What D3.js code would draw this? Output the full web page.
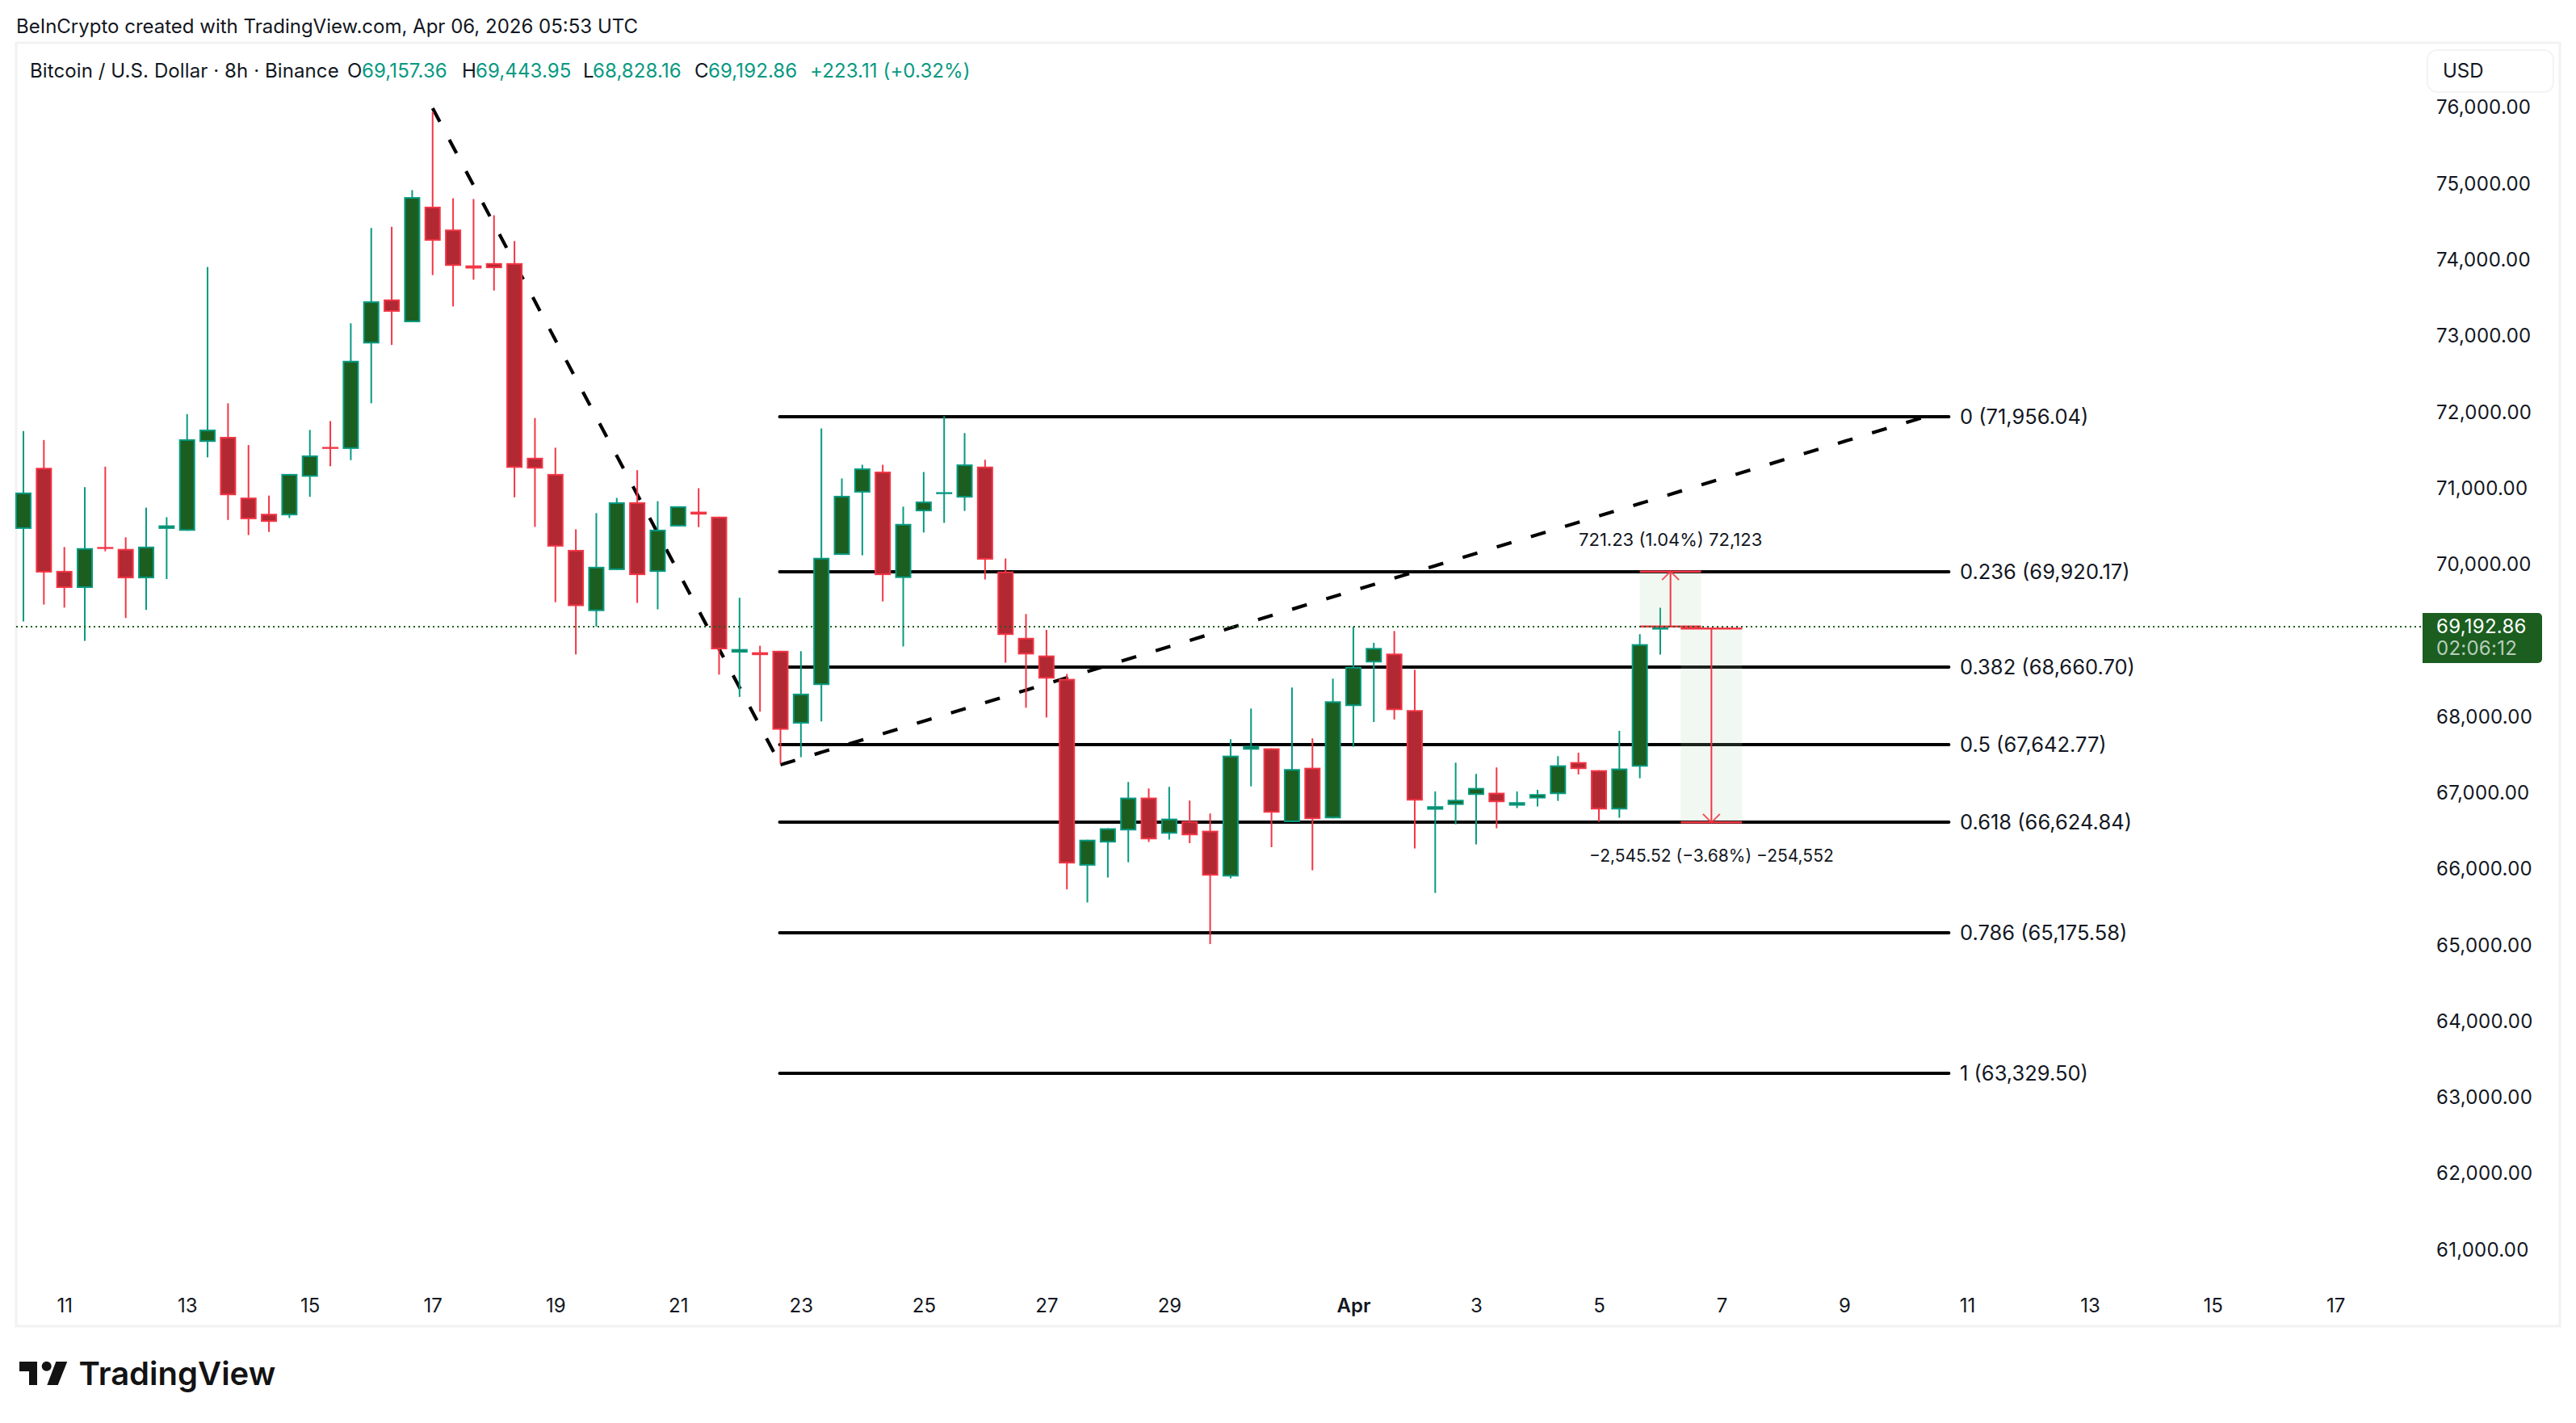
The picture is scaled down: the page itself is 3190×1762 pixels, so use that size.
<!DOCTYPE html>
<html>
<head>
<meta charset="utf-8">
<script src="https://cdn.jsdelivr.net/npm/d3@7"></script>
<style>
  html, body { margin: 0; padding: 0; background: #fff; }
  svg { display: block; }
  text { font-family: Inter, "Liberation Sans", sans-serif; fill: #131722; }
</style>
</head>
<body>
<div id="chart"></div>
<script>
// BTC/USD 8h candles, Mar 10 08:00 -> Apr 6 00:00, one bar every 8 hours
const opens = [
  70480, 71282, 69928, 69704, 70242, 70217, 69831, 70480, 70455, 71622,
  71688, 70891, 70678, 70658, 71165, 71556, 71530, 72915, 73493, 73194,
  74711, 74411, 73940, 73970, 73970, 71414, 71201, 70204, 69400, 69939,
  70829, 69915, 70512, 70706, 70640, 68855, 68860, 68879, 67923, 68429,
  70138, 70957, 71232, 69835, 70711, 70952, 70891, 71298, 69920, 69049,
  68817, 68510, 66057, 66361, 66520, 66951, 66477, 66643, 66516, 65915,
  67580, 67598, 66629, 67343, 66679, 68153, 68726, 68842, 68100, 66792,
  66855, 66986, 67015, 66845, 66940, 66997, 67417, 67311, 66795, 67357,
  69157.36
];
const highs = [
  71764, 71647, 70242, 71028, 71297, 70369, 70759, 70633, 71987, 73919,
  72129, 71581, 70917, 71201, 71779, 71896, 73179, 74432, 74447, 74929,
  75958, 74822, 74812, 74599, 74259, 71936, 71546, 70474, 70687, 70886,
  71251, 70843, 70777, 71014, 70640, 69575, 68945, 68879, 68874, 71800,
  71142, 71322, 71322, 70772, 71227, 71961, 71738, 71388, 70091, 69362,
  69153, 68576, 66398, 66548, 67156, 67071, 67092, 66912, 66742, 67718,
  68121, 67598, 68397, 67729, 68513, 69196, 68984, 69139, 68630, 67032,
  67410, 67262, 67347, 67032, 67053, 67495, 67541, 67311, 67828, 69097,
  69443.95
];
const lows = [
  69263, 69486, 69446, 69009, 70186, 69309, 69416, 69821, 70455, 71419,
  70597, 70399, 70440, 70623, 70901, 71302, 71383, 72129, 72895, 73194,
  73813, 73402, 73752, 73610, 70896, 70506, 69517, 68831, 69196, 69939,
  69508, 69423, 70512, 70503, 68566, 68273, 68079, 67397, 67482, 67951,
  70138, 70133, 69527, 68936, 70432, 70559, 70716, 69816, 68722, 68131,
  68003, 65745, 65574, 65901, 66102, 66368, 66400, 66353, 65028, 65890,
  67099, 66300, 66629, 65996, 66679, 67619, 67944, 67976, 66283, 65699,
  66601, 66336, 66548, 66813, 66834, 66908, 67255, 66633, 66686, 67205,
  68828.16
];
const closes = [
  70957, 69907, 69704, 70227, 70237, 69831, 70247, 70526, 71657, 71784,
  70922, 70607, 70572, 71201, 71444, 71551, 72687, 73468, 73331, 74837,
  74264, 73934, 73899, 73904, 71282, 71272, 70247, 69466, 69982, 70829,
  69873, 70469, 70777, 70668, 68898, 68902, 68822, 67842, 68316, 70100,
  70914, 71274, 69873, 70545, 70839, 70962, 71326, 70076, 69087, 68831,
  68514, 66086, 66398, 66548, 66951, 66403, 66675, 66456, 65926, 67502,
  67630, 66753, 67326, 66668, 68216, 68669, 68916, 68100, 66912, 66838,
  66922, 67078, 66891, 66891, 66997, 67375, 67326, 66795, 67333, 68966,
  69192.86
];

// 69,000 is hidden behind the last price tag
const priceTicks = [61000, 62000, 63000, 64000, 65000, 66000, 67000, 68000,
  70000, 71000, 72000, 73000, 74000, 75000, 76000];

// [month index, day]
const dateTicks = [
  [2, 11], [2, 13], [2, 15], [2, 17], [2, 19], [2, 21], [2, 23], [2, 25], [2, 27], [2, 29],
  [3, 1], [3, 3], [3, 5], [3, 7], [3, 9], [3, 11], [3, 13], [3, 15], [3, 17]
];

const fibLevels = [0, 0.236, 0.382, 0.5, 0.618, 0.786, 1];
const fibPrices = [71956.04, 69920.17, 68660.70, 67642.77, 66624.84, 65175.58, 63329.50];

// trend line anchors as bar index and price
const trendBars = [20, 37, 93];
const trendPrices = [76004, 67382, 71956.04];

// two price range tools: [first bar, last bar, from price, to price]
const rangeUp = [79, 82, 69198.94, 69920.17];
const rangeDown = [81, 84, 69170.36, 66624.84];

const lastPrice = 69192.86;
const countdown = '02:06:12';

const width = 3190;
const height = 1762;
const plot = { left: 20, top: 53, bottom: 1642, right: 3170 };

const upBorder = '#089981';
const upFill = '#1b5e20';
const downBorder = '#f23645';
const downFill = '#b22833';

const barMs = 8 * 3600 * 1000;
const firstBar = Date.UTC(2026, 2, 10, 8);
const barTime = i => new Date(firstBar + i * barMs);

const x = d3.scaleUtc()
  .domain([barTime(0), barTime(80)])
  .range([29, 2056]);
const xBar = i => x(barTime(i));

const y = d3.scaleLinear()
  .domain([71956.04, 65175.58])
  .range([515.7, 1155]);

const svg = d3.select('#chart').append('svg')
  .attr('width', width)
  .attr('height', height);

// frame
svg.append('rect')
  .attr('x', plot.left).attr('y', plot.top)
  .attr('width', plot.right - plot.left).attr('height', plot.bottom - plot.top)
  .attr('fill', 'none').attr('stroke', '#f2f2f2').attr('stroke-width', 3);

// header
svg.append('text').attr('x', 20).attr('y', 32)
  .attr('dominant-baseline', 'central').attr('font-size', 24)
  .text('BeInCrypto created with TradingView.com, Apr 06, 2026 05:53 UTC');

const legendParts = [
  ['Bitcoin / U.S. Dollar · 8h · Binance', 37, '#131722'],
  ['O', 430, '#131722'], ['69,157.36', 448, upBorder],
  ['H', 572, '#131722'], ['69,443.95', 589, upBorder],
  ['L', 722, '#131722'], ['68,828.16', 734, upBorder],
  ['C', 860, '#131722'], ['69,192.86', 877, upBorder],
  ['+223.11 (+0.32%)', 1003, upBorder]
];
svg.append('g').selectAll('text').data(legendParts).enter().append('text')
  .attr('x', d => d[1]).attr('y', 87)
  .attr('dominant-baseline', 'central').attr('font-size', 24)
  .attr('letter-spacing', 0.1)
  .style('fill', d => d[2])
  .text(d => d[0]);

// fib levels, below the candles
const fibG = svg.append('g');
fibG.selectAll('line').data(fibPrices).enter().append('line')
  .attr('x1', xBar(37) - 1).attr('x2', xBar(93) + 28)
  .attr('y1', d => Math.round(y(d))).attr('y2', d => Math.round(y(d)))
  .attr('stroke', '#000').attr('stroke-width', 4).attr('stroke-linecap', 'round');
fibG.selectAll('text').data(fibPrices).enter().append('text')
  .attr('x', 2427).attr('y', d => y(d) - 0.5)
  .attr('dominant-baseline', 'central').attr('font-size', 25.5)
  .text((d, i) => `${fibLevels[i]} (${d3.format(',.2f')(d)})`);

// dashed trend line, the dash pattern restarts on each leg
const trendG = svg.append('g');
d3.pairs(d3.zip(trendBars, trendPrices)).forEach(([a, b]) => {
  trendG.append('line')
    .attr('x1', xBar(a[0])).attr('y1', y(a[1]))
    .attr('x2', xBar(b[0])).attr('y2', y(b[1]))
    .attr('stroke', '#000').attr('stroke-width', 4.2)
    .attr('stroke-dasharray', '19 25.15');
});

// candles
const bars = d3.range(opens.length);
const isUp = i => closes[i] >= opens[i];
const candleG = svg.append('g');
candleG.selectAll('.wick').data(bars).enter().append('line')
  .attr('class', 'wick')
  .attr('x1', i => xBar(i)).attr('x2', i => xBar(i))
  .attr('y1', i => y(highs[i])).attr('y2', i => y(lows[i]))
  .attr('stroke', i => isUp(i) ? upBorder : downBorder)
  .attr('stroke-width', 2);
candleG.selectAll('.body').data(bars).enter().append('rect')
  .attr('class', 'body')
  .attr('x', i => xBar(i) - 9)
  .attr('y', i => y(Math.max(opens[i], closes[i])) + 1)
  .attr('width', 18)
  .attr('height', i => Math.max(0.4, Math.abs(y(opens[i]) - y(closes[i])) - 2))
  .attr('fill', i => isUp(i) ? upFill : downFill)
  .attr('stroke', i => isUp(i) ? upBorder : downBorder)
  .attr('stroke-width', 2);

// price range tools
function drawRange(r) {
  const [b0, b1, from, to] = r;
  const g = svg.append('g');
  const xa = xBar(b0), xb = xBar(b1), xm = (xa + xb) / 2;
  const dir = to > from ? 1 : -1;
  g.append('rect')
    .attr('x', xa).attr('width', xb - xa)
    .attr('y', y(Math.max(from, to))).attr('height', Math.abs(y(from) - y(to)))
    .attr('fill', 'rgba(165,214,167,0.16)');
  [from, to].forEach(p => {
    g.append('line')
      .attr('x1', xa).attr('x2', xb).attr('y1', y(p)).attr('y2', y(p))
      .attr('stroke', downBorder).attr('stroke-width', 2.5);
  });
  g.append('line')
    .attr('x1', xm).attr('x2', xm).attr('y1', y(from)).attr('y2', y(to))
    .attr('stroke', downBorder).attr('stroke-width', 2);
  g.append('path')
    .attr('d', `M${xm - 10.5},${y(to) + dir * 10.5}L${xm},${y(to)}L${xm + 10.5},${y(to) + dir * 10.5}`)
    .attr('fill', 'none').attr('stroke', downBorder).attr('stroke-width', 2).attr('opacity', 0.85);
}
drawRange(rangeUp);
drawRange(rangeDown);

const upTextX = (xBar(rangeUp[0]) + xBar(rangeUp[1])) / 2;
const downTextX = (xBar(rangeDown[0]) + xBar(rangeDown[1])) / 2;
svg.append('text').attr('x', upTextX).attr('y', 668)
  .attr('text-anchor', 'middle').attr('dominant-baseline', 'central').attr('font-size', 22)
  .text('721.23 (1.04%) 72,123');
svg.append('text').attr('x', downTextX).attr('y', 1059)
  .attr('text-anchor', 'middle').attr('dominant-baseline', 'central').attr('font-size', 21)
  .text('\u22122,545.52 (\u22123.68%) \u2212254,552');

// last price line
svg.append('line')
  .attr('x1', plot.left).attr('x2', 3000)
  .attr('y1', Math.round(y(lastPrice))).attr('y2', Math.round(y(lastPrice)))
  .attr('stroke', upFill).attr('stroke-width', 2).attr('stroke-dasharray', '2 4');

// price axis
const yAxis = d3.axisRight(y)
  .tickValues(priceTicks)
  .tickSize(0)
  .tickPadding(0)
  .tickFormat(d3.format(',.2f'));
const yAxisG = svg.append('g').attr('transform', 'translate(3017,-2)').call(yAxis);
yAxisG.select('.domain').remove();
yAxisG.selectAll('text')
  .attr('font-family', 'Inter').attr('font-size', 24).attr('dy', null)
  .attr('letter-spacing', 0.25)
  .attr('dominant-baseline', 'central').style('fill', '#131722');

// last price tag
svg.append('path')
  .attr('d', 'M3000,759H3143a5,5 0 0 1 5,5V816a5,5 0 0 1 -5,5H3000Z')
  .attr('fill', upFill);
svg.append('text').attr('x', 3017).attr('y', 775)
  .attr('dominant-baseline', 'central').attr('font-size', 24).attr('letter-spacing', 0.25)
  .style('fill', '#fff')
  .text(d3.format(',.2f')(lastPrice));
svg.append('text').attr('x', 3017).attr('y', 802.5)
  .attr('dominant-baseline', 'central').attr('font-size', 24).attr('letter-spacing', 0.25)
  .style('fill', 'rgba(255,255,255,0.7)')
  .text(countdown);

// currency button
svg.append('rect')
  .attr('x', 3006).attr('y', 62).attr('width', 156).attr('height', 52).attr('rx', 12)
  .attr('fill', '#fff').attr('stroke', '#f0f0f0').attr('stroke-width', 1.5);
svg.append('text').attr('x', 3025).attr('y', 87)
  .attr('dominant-baseline', 'central').attr('font-size', 24)
  .text('USD');

// time axis
const xAxis = d3.axisBottom(x)
  .tickValues(dateTicks.map(d => new Date(Date.UTC(2026, d[0], d[1]))))
  .tickSize(0)
  .tickPadding(0)
  .tickFormat(d => d.getUTCDate() === 1 ? 'Apr' : d.getUTCDate());
const xAxisG = svg.append('g').attr('transform', 'translate(0,1616)').call(xAxis);
xAxisG.select('.domain').remove();
xAxisG.selectAll('text')
  .attr('font-family', 'Inter').attr('font-size', 24).attr('y', 0).attr('dy', null)
  .attr('dominant-baseline', 'central').style('fill', '#131722')
  .attr('font-weight', d => d.getUTCDate() === 1 ? 600 : 400);

// logo
const logo = svg.append('g').attr('fill', '#131313');
logo.append('path').attr('d', 'M24,1686H46V1715H36V1698H24Z');
logo.append('circle').attr('cx', 57.7).attr('cy', 1691.7).attr('r', 6);
logo.append('path').attr('d', 'M69.3,1686H83.3L71.7,1715H58.3Z');
svg.append('text').attr('x', 97.5).attr('y', 1715)
  .attr('font-size', 40).attr('font-weight', 600).style('fill', '#131313')
  .text('TradingView');
</script>
</body>
</html>
